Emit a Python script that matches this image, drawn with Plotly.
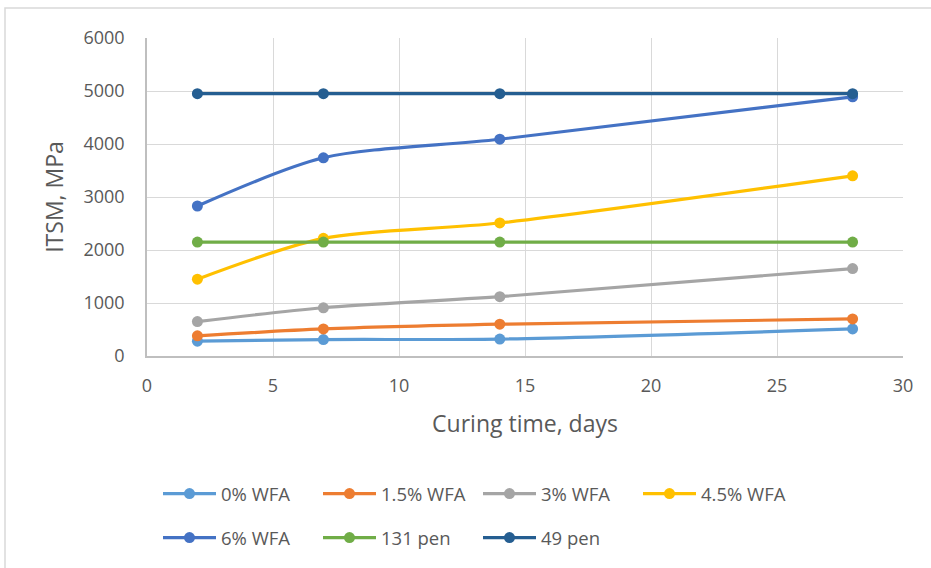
import plotly.graph_objects as go

days = [2, 7, 14, 28]
series_names = ["0% WFA", "1.5% WFA", "3% WFA", "4.5% WFA", "6% WFA", "131 pen", "49 pen"]
wfa_0 = [280, 310, 320, 510]
wfa_1_5 = [380, 510, 600, 700]
wfa_3 = [650, 910, 1120, 1650]
wfa_4_5 = [1450, 2220, 2510, 3400]
wfa_6 = [2830, 3740, 4090, 4890]
pen_131 = [2150, 2150, 2150, 2150]
pen_49 = [4950, 4950, 4950, 4950]
colors = ["#5B9BD5", "#ED7D31", "#A5A5A5", "#FFC000", "#4472C4", "#70AD47", "#255E91"]

values = [wfa_0, wfa_1_5, wfa_3, wfa_4_5, wfa_6, pen_131, pen_49]

FONT = "Open Sans, Noto Sans, sans-serif"
TXT = "#595959"

W, H = 931, 568
L, R, T, B = 147, 28, 38, 211
pw, ph = W - L - R, H - T - B

fig = go.Figure()
for i, (name, vals, col) in enumerate(zip(series_names, values, colors)):
    fig.add_trace(go.Scatter(
        x=days, y=vals, name=name, mode="lines+markers",
        line=dict(color=col, width=3.2, shape="spline", smoothing=0.8),
        marker=dict(color=col, size=11),
        legend="legend" if i < 4 else "legend2",
    ))

def px_to_paper_y(py):
    return (H - B - py) / ph

def px_to_paper_x(px):
    return (px - L) / pw

legend_common = dict(
    orientation="h", xanchor="left", yanchor="middle",
    font=dict(family=FONT, size=18.5, color=TXT),
    bgcolor="rgba(0,0,0,0)", entrywidth=92, entrywidthmode="pixels",
    itemwidth=53, tracegroupgap=0,
)

fig.update_layout(
    width=W, height=H,
    margin=dict(l=L, r=R, t=T, b=B),
    paper_bgcolor="white", plot_bgcolor="white",
    showlegend=True,
    legend=dict(x=px_to_paper_x(158), y=px_to_paper_y(494), **legend_common),
    legend2=dict(x=px_to_paper_x(158), y=px_to_paper_y(538), **legend_common),
    xaxis=dict(
        range=[0, 30], dtick=5, tick0=0,
        showgrid=True, gridcolor="#D9D9D9", gridwidth=1,
        showline=True, linecolor="#BFBFBF", linewidth=1.5,
        zeroline=False, ticks="", ticklabelstandoff=13,
        tickfont=dict(family=FONT, size=18, color=TXT),
        title=dict(text="Curing time, days", font=dict(family=FONT, size=23, color=TXT), standoff=20),
    ),
    yaxis=dict(
        range=[0, 6000], dtick=1000, tick0=0,
        showgrid=True, gridcolor="#D9D9D9", gridwidth=1,
        showline=True, linecolor="#BFBFBF", linewidth=1.5,
        zeroline=False, ticks="", ticklabelstandoff=17,
        tickfont=dict(family=FONT, size=18, color=TXT),
        title=dict(text="ITSM, MPa", font=dict(family=FONT, size=23, color=TXT), standoff=13),
    ),
    shapes=[dict(
        type="rect", xref="paper", yref="paper",
        x0=px_to_paper_x(5), x1=px_to_paper_x(940),
        y0=px_to_paper_y(580), y1=px_to_paper_y(8),
        line=dict(color="#D9D9D9", width=1.5), fillcolor="rgba(0,0,0,0)", layer="below",
    )],
)

fig.write_html(
    "out.html",
    config={"displayModeBar": False},
    post_script="document.body.style.margin='0';document.body.style.overflow='hidden';",
)
